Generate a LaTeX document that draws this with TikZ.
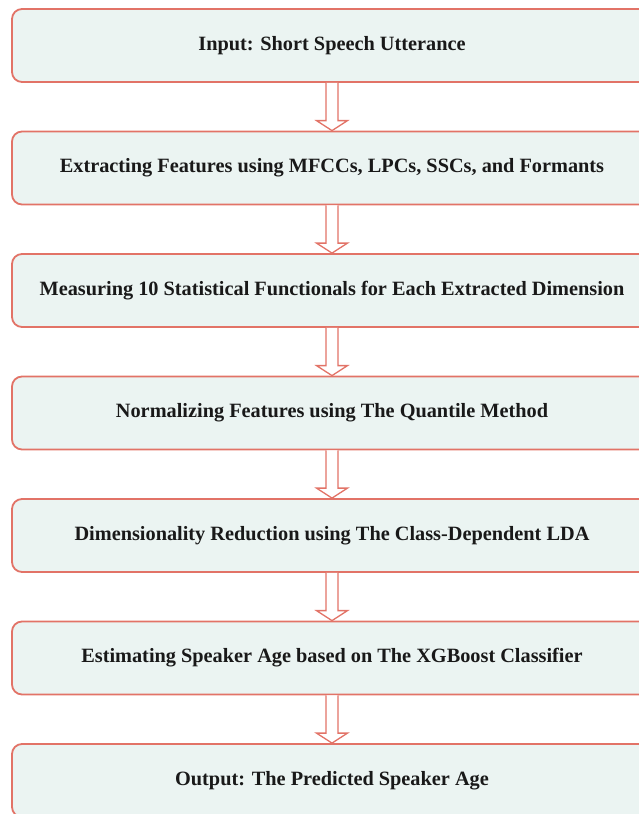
\documentclass[tikz,border=0pt]{standalone}
\usepackage{fontspec}
\setmainfont{Liberation Serif}
\usetikzlibrary{positioning,calc}

\definecolor{boxfill}{HTML}{EBF4F2}
\definecolor{boxline}{HTML}{E27367}

\tikzset{
	stage/.style={draw=boxline, line width=1.8pt, fill=boxfill, rounded corners=10pt,
		minimum width=640pt, minimum height=73pt, inner sep=0pt, text=black!90,
		font=\fontsize{20.3}{24}\selectfont\bfseries},
	flow/.style={draw=boxline, line width=1.3pt, fill=white, line join=miter}
}

% Hollow block arrow from one stage to the next
\newcommand{\flowarrow}[2]{%
	\draw[flow] ($(#1.south)+(-6pt,0)$) -- ($(#2.north)+(-6pt,10pt)$)
		-- ($(#2.north)+(-15.5pt,10pt)$) -- (#2.north) -- ($(#2.north)+(15.5pt,10pt)$)
		-- ($(#2.north)+(6pt,10pt)$) -- ($(#1.south)+(6pt,0)$);}

\begin{document}
\begin{tikzpicture}[x=1pt, y=-1pt]

	\clip (0,0) rectangle (639,814);
	\useasboundingbox (0,0) rectangle (639,814);

    % The stages
	\node[stage] (input) at (332,45.5) {Input: Short Speech Utterance};
	\node[stage] (extract) at (332,168) {Extracting Features using MFCCs, LPCs, SSCs, and Formants};
	\node[stage] (measure) at (332,290.5) {Measuring 10 Statistical Functionals for Each Extracted Dimension};
	\node[stage] (normal) at (332,413) {Normalizing Features using The Quantile Method};
	\node[stage] (reduce) at (332,535.5) {Dimensionality Reduction using The Class-Dependent LDA};
	\node[stage] (estimate) at (332,658) {Estimating Speaker Age based on The XGBoost Classifier};
	\node[stage] (output) at (332,780.5) {Output: The Predicted Speaker Age};

    % Arrows between the stages
	\flowarrow{input}{extract}
	\flowarrow{extract}{measure}
	\flowarrow{measure}{normal}
	\flowarrow{normal}{reduce}
	\flowarrow{reduce}{estimate}
	\flowarrow{estimate}{output}

\end{tikzpicture}
\end{document}
